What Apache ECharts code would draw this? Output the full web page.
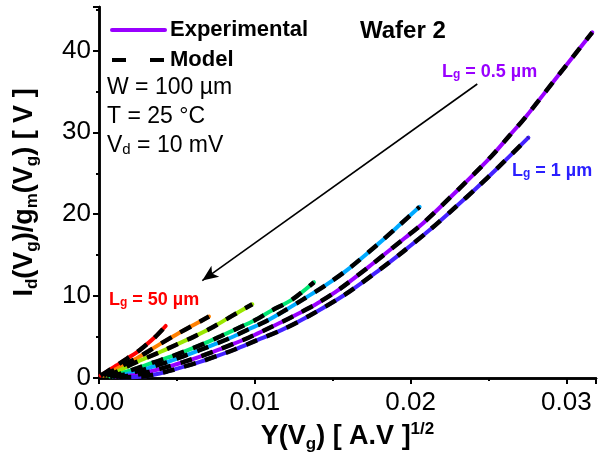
<!DOCTYPE html>
<html><head><meta charset="utf-8">
<script src="https://cdn.jsdelivr.net/npm/echarts@6/dist/echarts.min.js"></script>
<style>html,body{margin:0;padding:0;background:#fff}#c{width:600px;height:465px}</style>
</head><body><div id="c"></div>
<script>
// ---- data ----
const lg50um = [[0.0001,0.3],[0.00053,0.8],[0.00118,1.6],[0.00182,2.4],[0.0024,3.1],[0.0029,3.85],[0.0036,5.0],[0.00428,6.35]];
const orangeCurve = [[0.0003,0.3],[0.00096,0.95],[0.0017,1.7],[0.00246,2.45],[0.0032,3.3],[0.00396,4.2],[0.005,5.35],[0.0061,6.5],[0.00706,7.5]];
const yellowCurve = [[0.0005,0.3],[0.00096,0.6],[0.0016,1.2],[0.00225,1.8],[0.0031,2.5],[0.00396,3.2],[0.005,4.1],[0.0061,5.05],[0.0072,6.1],[0.00824,7.25],[0.009,8.1],[0.00984,9.0]];
const greenCurve = [[0.0007,0.2],[0.00118,0.4],[0.0018,0.8],[0.00246,1.2],[0.0035,1.9],[0.0046,2.6],[0.0057,3.4],[0.00674,4.2],[0.0078,5.1],[0.00888,6.05],[0.01,7.05],[0.011,8.15],[0.01241,9.6],[0.0138,11.7]];
const skyCurve = [[0.0009,0.2],[0.0017,0.45],[0.00246,0.8],[0.0034,1.35],[0.00438,1.95],[0.0054,2.65],[0.00653,3.45],[0.0076,4.25],[0.00867,5.1],[0.0096,5.95],[0.01059,6.8],[0.0118,8.1],[0.0131,9.6],[0.0146,11.4],[0.016,13.3],[0.018,16.5],[0.0193,18.7],[0.02058,20.9]];
const lg05um = [[0.0011,0.15],[0.0018,0.25],[0.00246,0.4],[0.0034,0.85],[0.00438,1.35],[0.0054,1.95],[0.00653,2.65],[0.0076,3.4],[0.00867,4.2],[0.00963,4.95],[0.01059,5.8],[0.0118,6.9],[0.01284,7.9],[0.014,9.1],[0.0154,10.8],[0.01733,13.6],[0.0199,17.5],[0.0208,18.9],[0.023,22.9],[0.0252,27.1],[0.0263,29.5],[0.0274,31.9],[0.0295,37.0],[0.03166,42.2]];
const lg1um = [[0.0013,0.1],[0.00268,0.15],[0.0035,0.4],[0.00438,0.8],[0.0054,1.35],[0.00653,2.0],[0.0076,2.7],[0.00867,3.45],[0.01,4.5],[0.01177,5.9],[0.0135,7.6],[0.0158,10.2],[0.018,13.2],[0.0195,15.4],[0.02118,18.0],[0.02296,21.0],[0.02418,23.1],[0.02567,25.8],[0.02756,29.35]];
const arrowStart = [0.02428, 35.9];
const arrowEnd = [0.00663, 11.9];

// ---- styles ----
const curves = [lg50um, orangeCurve, yellowCurve, greenCurve, skyCurve, lg05um, lg1um];
const curveColors = ['#ff0000','#ff8000','#99e600','#00e673','#00aaff','#9900ff','#4422ff'];
const FONT = 'Liberation Sans, Arial, Helvetica, sans-serif';

const series = [];
curves.forEach((d, i) => {
  series.push({
    type:'line', name:'Experimental', data:d, symbol:'none', smooth:0.3,
    lineStyle:{color:curveColors[i], width:4, cap:'round'}, itemStyle:{color:curveColors[i]},
    z:2, silent:true
  });
});
curves.forEach((d, i) => {
  const s = {
    type:'line', name:'Model', data:d, symbol:'none', smooth:0.3,
    lineStyle:{color:'#000', width:4.5, type:[12,10]}, itemStyle:{color:'#000'},
    z:3, silent:true
  };
  if (i === 0) {
    s.markLine = {
      silent:true, animation:false, label:{show:false},
      lineStyle:{color:'#000', width:1.6, type:'solid'},
      data:[[{coord:arrowStart, symbol:'none'},{coord:arrowEnd, symbol:'arrow', symbolSize:[10,16]}]]
    };
  }
  series.push(s);
});

const axisLineStyle = {color:'#000', width:2.5};
const xFmt = v => { const k = Math.round(v*100); return Math.abs(v*100-k) < 1e-6 ? (k/100).toFixed(2) : ''; };
const yFmt = v => (Math.abs(v % 10) < 1e-9 ? String(v) : '');

const subRich = (size, color) => ({
  m:{fontSize:size, fontWeight:'bold', fontFamily:FONT, color:color, fill:color},
  s:{fontSize:Math.round(size*0.65), fontWeight:'bold', fontFamily:FONT, color:color, fill:color, verticalAlign:'bottom'}
});

const hiddenSymbol = {color:'rgba(0,0,0,0)', borderWidth:0, borderColor:'rgba(0,0,0,0)', opacity:0};

const option = {
  animation:false,
  textStyle:{fontFamily:FONT},
  grid:{left:99, right:4, top:7, bottom:87},
  legend:{
    left:105, top:13, orient:'vertical', itemWidth:53, itemHeight:14, itemGap:6, selectedMode:false,
    textStyle:{fontSize:22, fontWeight:'bold', color:'#000', lineHeight:24, fontFamily:FONT},
    data:[
      {name:'Experimental', itemStyle:hiddenSymbol, lineStyle:{color:'#9900ff', width:4, type:'solid', opacity:1}},
      {name:'Model', itemStyle:hiddenSymbol, lineStyle:{color:'#000', width:4, type:[14,24], opacity:1}}
    ]
  },
  xAxis:[
    {type:'value', position:'bottom', min:0, max:0.0319, interval:0.01,
     axisLine:{lineStyle:axisLineStyle}, axisTick:{length:6, lineStyle:{color:'#000', width:2}},
     minorTick:{show:true, splitNumber:2, length:3, lineStyle:{color:'#000', width:2}},
     splitLine:{show:false},
     axisLabel:{fontSize:26, color:'#000', margin:12, formatter:xFmt, fontFamily:FONT},
     name:'{m|Y(V}{s|g}{m|) [ A.V ]}{u|1/2}', nameLocation:'middle', nameGap:38,
     nameTextStyle:{rich:{
       m:{fontSize:27, fontWeight:'bold', color:'#000', lineHeight:32, fontFamily:FONT},
       s:{fontSize:17, fontWeight:'bold', color:'#000', verticalAlign:'bottom', fontFamily:FONT},
       u:{fontSize:17, fontWeight:'bold', color:'#000', verticalAlign:'top', fontFamily:FONT}
     }}
    },
    {type:'value', position:'top', min:0, max:0.0319, interval:0.01,
     axisLine:{lineStyle:axisLineStyle}, axisTick:{inside:true, length:5, lineStyle:{color:'#000', width:2}},
     minorTick:{show:true, splitNumber:2, length:3, lineStyle:{color:'#000', width:2}},
     splitLine:{show:false}, axisLabel:{show:false}}
  ],
  yAxis:[
    {type:'value', position:'left', min:0, max:45.3, interval:10,
     axisLine:{show:true, lineStyle:axisLineStyle}, axisTick:{show:true, length:6, lineStyle:{color:'#000', width:2}},
     minorTick:{show:true, splitNumber:2, length:3, lineStyle:{color:'#000', width:2}},
     splitLine:{show:false},
     axisLabel:{fontSize:26, color:'#000', margin:8, formatter:yFmt, fontFamily:FONT},
     name:'{m|I}{s|d}{m|(V}{s|g}{m|)/g}{s|m}{m|(V}{s|g}{m|) [ V ]}', nameLocation:'middle', nameGap:58,
     nameTextStyle:{rich:{
       m:{fontSize:27, fontWeight:'bold', color:'#000', lineHeight:32, fontFamily:FONT},
       s:{fontSize:17, fontWeight:'bold', color:'#000', verticalAlign:'bottom', fontFamily:FONT}
     }}
    },
    {type:'value', position:'right', min:0, max:45.3, interval:10,
     axisLine:{show:true, lineStyle:axisLineStyle}, axisTick:{show:true, inside:true, length:5, lineStyle:{color:'#000', width:2}},
     minorTick:{show:true, splitNumber:2, length:3, lineStyle:{color:'#000', width:2}},
     splitLine:{show:false}, axisLabel:{show:false}}
  ],
  graphic:[
    {type:'text', x:360, y:31, z:10, style:{text:'Wafer 2', font:'bold 24px '+FONT, fill:'#000', verticalAlign:'middle'}},
    {type:'text', x:107, y:88, z:10, style:{text:'W = 100 µm', font:'23px '+FONT, fill:'#000', verticalAlign:'middle'}},
    {type:'text', x:107, y:117, z:10, style:{text:'T = 25 °C', font:'23px '+FONT, fill:'#000', verticalAlign:'middle'}},
    {type:'text', x:107, y:146, z:10, style:{text:'{m|V}{s|d}{m| = 10 mV}', verticalAlign:'middle', rich:{
      m:{fontSize:23, fontFamily:FONT, fill:'#000'}, s:{fontSize:15, fontFamily:FONT, fill:'#000', verticalAlign:'bottom'}}}},
    {type:'text', x:442, y:72, z:10, style:{text:'{m|L}{s|g}{m| = 0.5 µm}', verticalAlign:'middle', rich:subRich(18,'#9900ff')}},
    {type:'text', x:512, y:171, z:10, style:{text:'{m|L}{s|g}{m| = 1 µm}', verticalAlign:'middle', rich:subRich(18,'#2a1fff')}},
    {type:'text', x:109, y:300, z:10, style:{text:'{m|L}{s|g}{m| = 50 µm}', verticalAlign:'middle', rich:subRich(18,'#ff0000')}}
  ],
  series:series
};
const chart = echarts.init(document.getElementById('c'), null, {renderer:'canvas'});
chart.setOption(option);
</script></body></html>
